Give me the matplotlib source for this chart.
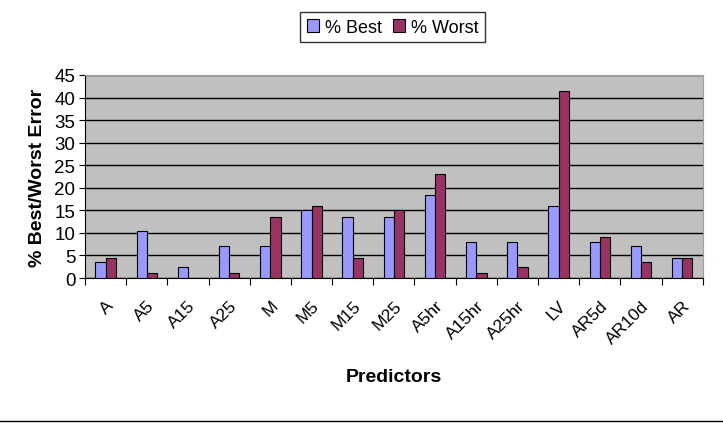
import numpy as np
import matplotlib.pyplot as plt
from matplotlib.lines import Line2D

predictors = ['A', 'A5', 'A15', 'A25', 'M', 'M5', 'M15', 'M25', 'A5hr',
              'A15hr', 'A25hr', 'LV', 'AR5d', 'AR10d', 'AR']
best = [3.5, 10.5, 2.5, 7, 7, 15, 13.5, 13.5, 18.5, 8, 8, 16, 8, 7, 4.5]
worst = [4.5, 1, 0, 1, 13.5, 16, 4.5, 15, 23, 1, 2.5, 41.5, 9, 3.5, 4.5]

plt.rcParams['font.family'] = ['Liberation Sans', 'DejaVu Sans']

fig = plt.figure(figsize=(7.23, 4.35), dpi=100)
ax = fig.add_axes([0.1176, 0.3586, 0.8544, 0.4667])
ax.set_facecolor('#C0C0C0')

x = np.arange(len(predictors))
w = 0.25
ax.bar(x - w / 2, best, w, color='#9999FF', edgecolor='black', linewidth=0.8,
       label='% Best', zorder=3)
ax.bar(x + w / 2, worst, w, color='#993366', edgecolor='black', linewidth=0.8,
       label='% Worst', zorder=3)

ax.set_xlim(-0.5, len(predictors) - 0.5)
ax.set_ylim(0, 45)
ax.set_yticks(range(0, 46, 5))
ax.yaxis.grid(True, color='black', linewidth=1, zorder=1)
ax.tick_params(axis='y', labelsize=13.5, length=4, color='black', pad=3)

# ticks between categories, labels at centers
ax.set_xticks(np.arange(-0.5, len(predictors), 1))
ax.set_xticklabels([])
ax.set_xticks(x, minor=True)
ax.set_xticklabels(predictors, minor=True, rotation=45, ha='right',
                   rotation_mode='anchor', fontsize=12.5)
ax.tick_params(axis='x', which='minor', length=0, pad=14)
ax.tick_params(axis='x', which='major', length=5)

for s in ['top', 'right']:
    ax.spines[s].set_color('#A0A0A0')
for s in ['left', 'bottom']:
    ax.spines[s].set_color('black')

narrow = ['Liberation Sans Narrow', 'Liberation Sans', 'DejaVu Sans']
ax.set_ylabel('% Best/Worst Error', fontsize=14, fontweight='bold',
              labelpad=6, family=narrow)
ax.set_xlabel('Predictors', fontsize=14, fontweight='bold', labelpad=16,
              family=narrow)

leg = fig.legend(loc='upper center', bbox_to_anchor=(0.543, 0.99), ncol=2,
                 fontsize=13, frameon=True, fancybox=False, edgecolor='black',
                 handlelength=0.7, handleheight=0.7, handletextpad=0.3,
                 columnspacing=0.6, borderpad=0.35)
leg.get_frame().set_linewidth(1)

fig.add_artist(Line2D([0, 1], [1 - 422 / 435, 1 - 422 / 435], color='black',
                      linewidth=1, transform=fig.transFigure))

fig.savefig('out.png', dpi=100)
